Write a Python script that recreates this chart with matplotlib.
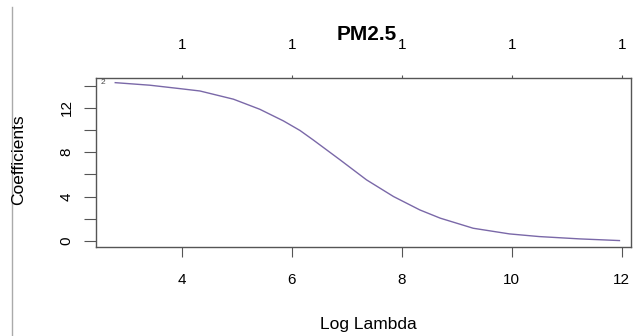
import matplotlib.pyplot as plt
from matplotlib.lines import Line2D

plt.rcParams["font.family"] = ["Liberation Sans", "DejaVu Sans"]

# coefficient path (glmnet style plot)
log_lambda = [2.79, 3.42, 3.97, 4.33, 4.94, 5.42, 5.85, 6.15, 6.39, 6.88,
              7.36, 7.85, 8.33, 8.7, 9.3, 9.96, 10.5, 11.24, 11.96]
coef = [14.26, 14.03, 13.72, 13.51, 12.77, 11.86, 10.81, 9.95, 9.1, 7.3,
        5.5, 4.0, 2.79, 2.05, 1.14, 0.63, 0.39, 0.18, 0.03]

x_ticks = [4, 6, 8, 10, 12]
df_labels = ["1", "1", "1", "1", "1"]
y_ticks = [0, 2, 4, 6, 8, 10, 12, 14]
y_labels = ["0", "", "4", "", "8", "", "12", ""]

fig = plt.figure(figsize=(6.44, 3.36), dpi=100)
ax = fig.add_axes([96 / 644, 89 / 336, 535 / 644, 169 / 336])

ax.plot(log_lambda, coef, color="#7a68a8", lw=1.0)
ax.set_xlim(2.44, 12.17)
ax.set_ylim(-0.55, 14.68)

for s in ax.spines.values():
    s.set_color("#555555")
    s.set_linewidth(1.0)

ax.set_xticks(x_ticks)
ax.set_xticklabels([str(t) for t in x_ticks])
ax.set_yticks(y_ticks)
ax.set_yticklabels(y_labels, rotation=90, va="center")
ax.tick_params(axis="x", length=7, pad=12, labelsize=11, color="#555555")
ax.tick_params(axis="y", length=9, pad=7, labelsize=11, color="#555555")

top = ax.secondary_xaxis("top")
top.set_xticks(x_ticks)
top.set_xticklabels(df_labels)
top.spines["top"].set_visible(False)
top.tick_params(length=2.5, pad=16, labelsize=11, color="#555555")

# variable index at the left end of the path
ax.text(2.52, coef[0], "2", fontsize=6, color="#444444", va="center", ha="left")

fig.text(367 / 644, 1 - 34.5 / 336, "PM2.5", fontsize=15, fontweight="bold",
         ha="center", va="center")
fig.text(368 / 644, 1 - 325 / 336, "Log Lambda", fontsize=12.5,
         ha="center", va="center")
fig.text(19 / 644, 1 - 160 / 336, "Coefficients", fontsize=12.5,
         rotation=90, ha="center", va="center")

# thin gray border line on the left edge of the screenshot
fig.add_artist(Line2D([12 / 644, 12 / 644], [0, 1 - 7 / 336],
                      transform=fig.transFigure, color="#aaaaaa", lw=1))

fig.savefig("out.png", dpi=100)
